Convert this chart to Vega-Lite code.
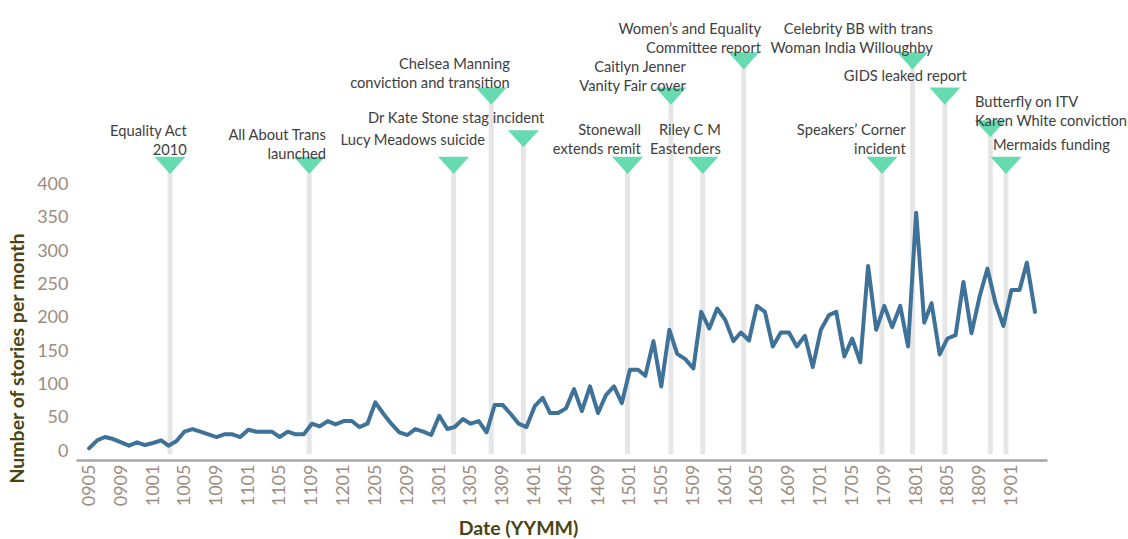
{
  "$schema": "https://vega.github.io/schema/vega-lite/v6.json",
  "width": 971,
  "height": 460,
  "autosize": {"type": "none"},
  "padding": {"left": 76, "top": 0, "right": 81, "bottom": 79},
  "background": "white",
  "config": {
    "view": {"stroke": null},
    "font": "Lato",
    "axis": {"labelFont": "Lato", "titleFont": "Lato", "labelOverlap": false}
  },
  "datasets": {
    "events": [
      {"event": "Equality Act 2010", "date": "2010-03-07", "level": 429, "label": "Equality Act\n2010", "label_date": "2010-05-10", "label_y": 479, "side": "right"},
      {"event": "All About Trans launched", "date": "2011-08-22", "level": 429, "label": "All About Trans\nlaunched", "label_date": "2011-10-25", "label_y": 473, "side": "right"},
      {"event": "Lucy Meadows suicide", "date": "2013-02-25", "level": 429, "label": "Lucy Meadows suicide", "label_date": "2013-06-25", "label_y": 466, "side": "right"},
      {"event": "Chelsea Manning conviction and transition", "date": "2013-07-19", "level": 533, "label": "Chelsea Manning\nconviction and transition", "label_date": "2013-09-28", "label_y": 580, "side": "right"},
      {"event": "Dr Kate Stone stag incident", "date": "2013-11-19", "level": 469, "label": "Dr Kate Stone stag incident", "label_date": "2014-02-07", "label_y": 499, "side": "right"},
      {"event": "Stonewall extends remit", "date": "2014-12-23", "level": 429, "label": "Stonewall\nextends remit", "label_date": "2015-02-12", "label_y": 480, "side": "right"},
      {"event": "Caitlyn Jenner Vanity Fair cover", "date": "2015-06-07", "level": 533, "label": "Caitlyn Jenner\nVanity Fair cover", "label_date": "2015-08-03", "label_y": 576, "side": "right"},
      {"event": "Riley C M Eastenders", "date": "2015-10-07", "level": 429, "label": "Riley C M\nEastenders", "label_date": "2015-12-15", "label_y": 480, "side": "right"},
      {"event": "Women's and Equality Committee report", "date": "2016-03-12", "level": 586, "label": "Women’s and Equality\nCommittee report", "label_date": "2016-05-17", "label_y": 632, "side": "right"},
      {"event": "Speakers' Corner incident", "date": "2017-08-23", "level": 429, "label": "Speakers’ Corner\nincident", "label_date": "2017-11-22", "label_y": 480, "side": "right"},
      {"event": "Celebrity BB with trans Woman India Willoughby", "date": "2017-12-18", "level": 586, "label": "Celebrity BB with trans\nWoman India Willoughby", "label_date": "2018-03-06", "label_y": 632, "side": "right"},
      {"event": "GIDS leaked report", "date": "2018-04-21", "level": 533, "label": "GIDS leaked report", "label_date": "2018-07-14", "label_y": 561, "side": "right"},
      {"event": "Butterfly on ITV / Karen White conviction", "date": "2018-10-12", "level": 484, "label": "Butterfly  on ITV\nKaren White conviction", "label_date": "2018-08-14", "label_y": 523, "side": "left"},
      {"event": "Mermaids funding", "date": "2018-12-11", "level": 429, "label": "Mermaids funding", "label_date": "2018-10-22", "label_y": 458, "side": "left"}
    ]
  },
  "layer": [
    {
      "data": {"name": "events"},
      "mark": {"type": "rule", "color": "#e6e6e6", "strokeWidth": 5},
      "encoding": {
        "x": {
          "field": "date",
          "type": "temporal",
          "scale": {"type": "utc", "domain": [{"year": 2009, "month": 3, "date": 12, "utc": true}, {"year": 2019, "month": 5, "date": 17, "utc": true}]},
          "axis": {
            "tickCount": {"interval": "month", "step": 4},
            "format": "%y%m",
            "labelExpr": "datum.value > 1550000000000 ? '' : datum.label",
            "labelAngle": 270,
            "labelAlign": "right",
            "labelBaseline": "middle",
            "labelFontSize": 18,
            "labelColor": "#9c8b80",
            "labelPadding": 4,
            "labelOverlap": false,
            "labelSeparation": 0,
            "labelFlush": false,
            "labelBound": false,
            "ticks": false,
            "grid": false,
            "domainColor": "#a6a6a6",
            "domainWidth": 2.5,
            "title": "Date (YYMM)",
            "titleFontSize": 19.5,
            "titleFontWeight": "bold",
            "titleColor": "#4a4413",
            "titleX": 442,
            "titleY": 68,
            "titleBaseline": "middle",
            "titleAlign": "center"
          }
        },
        "y": {
          "field": "level",
          "type": "quantitative",
          "scale": {"domain": [-13.5, 677.4], "nice": false, "zero": false},
          "axis": {
            "values": [0, 50, 100, 150, 200, 250, 300, 350, 400],
            "labelFontSize": 18,
            "labelColor": "#9c8b80",
            "labelPadding": 8,
            "labelOverlap": false,
            "ticks": false,
            "domain": false,
            "grid": false,
            "title": "Number of stories per month",
            "titleFontSize": 19.5,
            "titleFontWeight": "bold",
            "titleColor": "#4a4413",
            "titleAngle": 270,
            "titleX": -59,
            "titleY": 358,
            "titleAlign": "center",
            "titleBaseline": "middle"
          }
        },
        "y2": {"datum": -5}
      }
    },
    {
      "mark": {"type": "rule", "color": "#a6a6a6", "strokeWidth": 2.5},
      "encoding": {
        "y": {"datum": 400, "type": "quantitative"}
      }
    },
    {
      "data": {"name": "events"},
      "mark": {"type": "point", "shape": "M-1,-0.55L1,-0.55L0,0.55Z", "size": 961, "filled": true, "color": "#66dbb0", "opacity": 1, "strokeWidth": 0},
      "encoding": {
        "x": {"field": "date", "type": "temporal"},
        "y": {"field": "level", "type": "quantitative"}
      }
    },
    {
      "data": {
        "values": [
          {"month": "2009-05", "stories": 4}, {"month": "2009-06", "stories": 16}, {"month": "2009-07", "stories": 21}, {"month": "2009-08", "stories": 18},
          {"month": "2009-09", "stories": 13}, {"month": "2009-10", "stories": 8}, {"month": "2009-11", "stories": 13}, {"month": "2009-12", "stories": 9},
          {"month": "2010-01", "stories": 12}, {"month": "2010-02", "stories": 16}, {"month": "2010-03", "stories": 8}, {"month": "2010-04", "stories": 15},
          {"month": "2010-05", "stories": 29}, {"month": "2010-06", "stories": 33}, {"month": "2010-07", "stories": 29}, {"month": "2010-08", "stories": 25},
          {"month": "2010-09", "stories": 21}, {"month": "2010-10", "stories": 25}, {"month": "2010-11", "stories": 25}, {"month": "2010-12", "stories": 21},
          {"month": "2011-01", "stories": 32}, {"month": "2011-02", "stories": 29}, {"month": "2011-03", "stories": 29}, {"month": "2011-04", "stories": 29},
          {"month": "2011-05", "stories": 21}, {"month": "2011-06", "stories": 29}, {"month": "2011-07", "stories": 25}, {"month": "2011-08", "stories": 25},
          {"month": "2011-09", "stories": 41}, {"month": "2011-10", "stories": 37}, {"month": "2011-11", "stories": 45}, {"month": "2011-12", "stories": 40},
          {"month": "2012-01", "stories": 45}, {"month": "2012-02", "stories": 45}, {"month": "2012-03", "stories": 36}, {"month": "2012-04", "stories": 41},
          {"month": "2012-05", "stories": 73}, {"month": "2012-06", "stories": 56}, {"month": "2012-07", "stories": 41}, {"month": "2012-08", "stories": 28},
          {"month": "2012-09", "stories": 24}, {"month": "2012-10", "stories": 33}, {"month": "2012-11", "stories": 29}, {"month": "2012-12", "stories": 24},
          {"month": "2013-01", "stories": 53}, {"month": "2013-02", "stories": 33}, {"month": "2013-03", "stories": 36}, {"month": "2013-04", "stories": 48},
          {"month": "2013-05", "stories": 41}, {"month": "2013-06", "stories": 45}, {"month": "2013-07", "stories": 28}, {"month": "2013-08", "stories": 69},
          {"month": "2013-09", "stories": 69}, {"month": "2013-10", "stories": 56}, {"month": "2013-11", "stories": 41}, {"month": "2013-12", "stories": 36},
          {"month": "2014-01", "stories": 67}, {"month": "2014-02", "stories": 80}, {"month": "2014-03", "stories": 57}, {"month": "2014-04", "stories": 57},
          {"month": "2014-05", "stories": 64}, {"month": "2014-06", "stories": 93}, {"month": "2014-07", "stories": 60}, {"month": "2014-08", "stories": 97},
          {"month": "2014-09", "stories": 57}, {"month": "2014-10", "stories": 84}, {"month": "2014-11", "stories": 97}, {"month": "2014-12", "stories": 72},
          {"month": "2015-01", "stories": 122}, {"month": "2015-02", "stories": 122}, {"month": "2015-03", "stories": 113}, {"month": "2015-04", "stories": 165},
          {"month": "2015-05", "stories": 97}, {"month": "2015-06", "stories": 182}, {"month": "2015-07", "stories": 146}, {"month": "2015-08", "stories": 138},
          {"month": "2015-09", "stories": 124}, {"month": "2015-10", "stories": 209}, {"month": "2015-11", "stories": 184}, {"month": "2015-12", "stories": 214},
          {"month": "2016-01", "stories": 197}, {"month": "2016-02", "stories": 165}, {"month": "2016-03", "stories": 178}, {"month": "2016-04", "stories": 166},
          {"month": "2016-05", "stories": 218}, {"month": "2016-06", "stories": 209}, {"month": "2016-07", "stories": 157}, {"month": "2016-08", "stories": 178},
          {"month": "2016-09", "stories": 178}, {"month": "2016-10", "stories": 157}, {"month": "2016-11", "stories": 173}, {"month": "2016-12", "stories": 126},
          {"month": "2017-01", "stories": 182}, {"month": "2017-02", "stories": 204}, {"month": "2017-03", "stories": 209}, {"month": "2017-04", "stories": 142},
          {"month": "2017-05", "stories": 169}, {"month": "2017-06", "stories": 133}, {"month": "2017-07", "stories": 278}, {"month": "2017-08", "stories": 182},
          {"month": "2017-09", "stories": 218}, {"month": "2017-10", "stories": 186}, {"month": "2017-11", "stories": 218}, {"month": "2017-12", "stories": 157},
          {"month": "2018-01", "stories": 358}, {"month": "2018-02", "stories": 193}, {"month": "2018-03", "stories": 222}, {"month": "2018-04", "stories": 145},
          {"month": "2018-05", "stories": 169}, {"month": "2018-06", "stories": 174}, {"month": "2018-07", "stories": 254}, {"month": "2018-08", "stories": 177},
          {"month": "2018-09", "stories": 232}, {"month": "2018-10", "stories": 274}, {"month": "2018-11", "stories": 222}, {"month": "2018-12", "stories": 188},
          {"month": "2019-01", "stories": 242}, {"month": "2019-02", "stories": 242}, {"month": "2019-03", "stories": 283}, {"month": "2019-04", "stories": 209}
        ]
      },
      "mark": {"type": "line", "color": "#3e7298", "strokeWidth": 4, "strokeJoin": "round", "strokeCap": "round"},
      "encoding": {
        "x": {"field": "month", "type": "temporal"},
        "y": {"field": "stories", "type": "quantitative"}
      }
    },
    {
      "data": {"name": "events"},
      "transform": [{"filter": "datum.side === 'right'"}],
      "mark": {"type": "text", "align": "right", "baseline": "middle", "lineBreak": "\n", "lineHeight": 19, "fontSize": 14.7, "font": "Lato", "color": "#404040"},
      "encoding": {
        "x": {"field": "label_date", "type": "temporal"},
        "y": {"field": "label_y", "type": "quantitative"},
        "text": {"field": "label", "type": "nominal"}
      }
    },
    {
      "data": {"name": "events"},
      "transform": [{"filter": "datum.side === 'left'"}],
      "mark": {"type": "text", "align": "left", "baseline": "middle", "lineBreak": "\n", "lineHeight": 19, "fontSize": 14.7, "font": "Lato", "color": "#404040"},
      "encoding": {
        "x": {"field": "label_date", "type": "temporal"},
        "y": {"field": "label_y", "type": "quantitative"},
        "text": {"field": "label", "type": "nominal"}
      }
    }
  ]
}
